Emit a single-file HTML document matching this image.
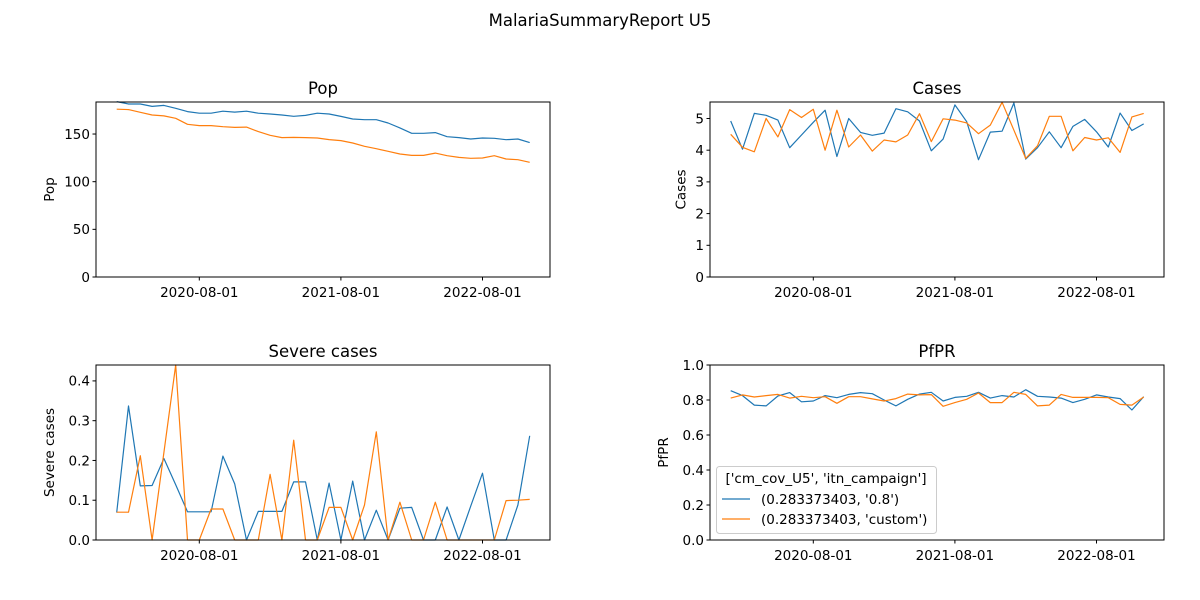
<!DOCTYPE html>
<html><head><meta charset="utf-8"><style>
html,body{margin:0;padding:0;background:#fff;}
svg{display:block;font-family:"DejaVu Sans","Liberation Sans",sans-serif;}
</style></head><body>
<svg id="chart" width="1200" height="600" viewBox="0 0 1200 600" xmlns="http://www.w3.org/2000/svg">
<rect width="1200" height="600" fill="#fff"/>
<text x="600" y="26" text-anchor="middle" font-size="16.5">MalariaSummaryReport U5</text>
</svg>
<script>
const seriesNames = ["(0.283373403, '0.8')", "(0.283373403, 'custom')"];
const xTickLabels = ["2020-08-01", "2021-08-01", "2022-08-01"];
const xTickIndex = [7, 19, 31];
const popA = [184,181.5,181.5,179,180,177,173.5,171.8,171.8,174,173,174,171.8,171,170,168.6,169.5,171.8,171,168.5,165.8,165,165,161.6,156.4,150.8,150.8,151.5,147.2,146.2,144.8,145.8,145.5,144,144.8,141];
const popB = [176,175.6,172.8,170,169,166.5,160.2,158.8,158.8,157.7,157,157.3,152.5,148.7,146.2,146.5,146.2,145.8,144.1,143.1,140.6,137.1,134.6,131.9,129,127.6,127.6,130,127.3,125.5,124.5,124.8,127.3,123.8,123.1,120.3];
const casesA = [4.92,4.03,5.16,5.1,4.95,4.08,4.48,4.88,5.26,3.8,5.0,4.56,4.47,4.54,5.31,5.21,4.92,3.98,4.35,5.43,4.9,3.7,4.57,4.6,5.49,3.72,4.08,4.58,4.08,4.75,4.97,4.58,4.1,5.17,4.62,4.83];
const casesB = [4.5,4.09,3.95,5.0,4.42,5.28,5.03,5.29,4.0,5.26,4.1,4.48,3.97,4.32,4.26,4.48,5.15,4.27,4.99,4.95,4.86,4.52,4.79,5.51,4.63,3.74,4.14,5.07,5.07,3.98,4.4,4.32,4.39,3.93,5.05,5.16];
const severeA = [0.069,0.337,0.136,0.137,0.205,0.139,0.071,0.071,0.071,0.211,0.141,0,0.072,0.072,0.072,0.146,0.146,0,0.143,0,0.148,0,0.075,0,0.08,0.082,0,0,0.083,0,0.085,0.168,0,0,0.088,0.262];
const severeB = [0.07,0.07,0.212,0,0.22,0.44,0,0,0.078,0.078,0,0,0,0.165,0,0.251,0,0,0.082,0.082,0,0.088,0.272,0,0.095,0,0,0.095,0,0,0,0,0,0.099,0.1,0.102];
const pfprA = [0.853,0.825,0.771,0.766,0.823,0.842,0.79,0.794,0.825,0.813,0.832,0.842,0.836,0.8,0.766,0.804,0.834,0.844,0.794,0.815,0.821,0.844,0.811,0.825,0.817,0.859,0.821,0.817,0.811,0.785,0.804,0.829,0.817,0.808,0.743,0.819];
const pfprB = [0.811,0.829,0.817,0.825,0.832,0.811,0.821,0.813,0.819,0.781,0.819,0.819,0.806,0.794,0.808,0.834,0.829,0.831,0.764,0.785,0.804,0.84,0.785,0.785,0.844,0.832,0.766,0.771,0.832,0.815,0.815,0.815,0.813,0.775,0.771,0.817];
const popTicks = [0,50,100,150];
const casesTicks = [0,1,2,3,4,5];
const severeTicks = [0,0.1,0.2,0.3,0.4];
const pfprTicks = [0,0.2,0.4,0.6,0.8,1.0];

const NS = "http://www.w3.org/2000/svg";
const svg = document.getElementById("chart");
const colors = ["#1f77b4", "#ff7f0e"];
function mk(tag, attrs, parent) {
  const e = document.createElementNS(NS, tag);
  for (const k in attrs) e.setAttribute(k, attrs[k]);
  (parent || svg).appendChild(e);
  return e;
}
function panel(key, title, ylabel, L, T, series, ymax, ticks, fmt) {
  const W = 454, H = 175;
  const g = mk("g", {});
  
  
  const xs = i => L + 20.7 + i * 11.8;
  const ys = v => T + H - v / ymax * H;
  series.forEach((arr, s) => {
    const p = mk("polyline", {points: arr.map((v, i) => xs(i).toFixed(1) + "," + ys(v).toFixed(1)).join(" "), fill: "none", stroke: colors[s], "stroke-width": 1.2, "stroke-linejoin": "round"}, g);
    
    
  });
  const fr = mk("rect", {x: L, y: T, width: W, height: H, fill: "none", stroke: "#000", "stroke-width": 1}, g);
  
  
  ticks.forEach(t => {
    const y = ys(t);
    mk("line", {x1: L - 3.5, x2: L, y1: y, y2: y, stroke: "#000"}, g);
    const tx = mk("text", {x: L - 6, y: y + 4.8, "text-anchor": "end", "font-size": 13.5}, g);
    tx.textContent = fmt(t);
    
    
  });
  xTickIndex.forEach((ix, k) => {
    const x = xs(ix);
    mk("line", {x1: x, x2: x, y1: T + H, y2: T + H + 3.5, stroke: "#000"}, g);
    const tx = mk("text", {x: x, y: T + H + 20, "text-anchor": "middle", "font-size": 13.5}, g);
    tx.textContent = xTickLabels[k];
    
    
  });
  const tt = mk("text", {x: L + W / 2, y: T - 8, "text-anchor": "middle", "font-size": 16.5}, g);
  tt.textContent = title;
  
  
  const maxw = Math.max(...ticks.map(t => fmt(t).length));
  const lx = L - 10 - maxw * 8.6 - 6;
  const yl = mk("text", {x: lx, y: T + H / 2, "text-anchor": "middle", "font-size": 13.5, transform: "rotate(-90 " + lx + " " + (T + H / 2) + ")"}, g);
  yl.textContent = ylabel;
  
  
}
panel("pop", "Pop", "Pop", 96, 102, [popA, popB], 183.6, popTicks, t => String(t));
panel("cases", "Cases", "Cases", 710, 102, [casesA, casesB], 5.52, casesTicks, t => String(t));
panel("severe", "Severe cases", "Severe cases", 96, 365, [severeA, severeB], 0.44, severeTicks, t => t.toFixed(1));
panel("pfpr", "PfPR", "PfPR", 710, 365, [pfprA, pfprB], 1.0, pfprTicks, t => t.toFixed(1));

// legend
const lg = mk("g", {});


mk("rect", {x: 716.5, y: 466.5, width: 220, height: 67, rx: 3, fill: "#fff", "fill-opacity": 0.8, stroke: "#ccc"}, lg);
const lt = mk("text", {x: 826, y: 483, "text-anchor": "middle", "font-size": 13.5}, lg);
lt.textContent = "['cm_cov_U5', 'itn_campaign']";


seriesNames.forEach((n, s) => {
  const y = 499 + s * 20;
  const ln = mk("line", {x1: 722, x2: 750, y1: y, y2: y, stroke: colors[s], "stroke-width": 1.2}, lg);
  
  
  const t = mk("text", {x: 761, y: y + 5, "font-size": 13.5}, lg);
  t.textContent = n;
  
  
});
</script>
</body></html>
